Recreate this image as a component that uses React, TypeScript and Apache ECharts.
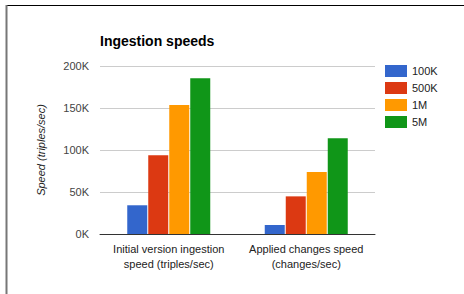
import React, { useEffect, useRef } from "react";
import * as echarts from "echarts";

const categories = ["Initial version ingestion\nspeed (triples/sec)", "Applied changes speed\n(changes/sec)"];
const seriesNames = ["100K", "500K", "1M", "5M"];
const values100K = [34200, 10700];
const values500K = [93700, 44800];
const values1M = [153600, 73800];
const values5M = [185300, 113900];
const colors = ["#3366cc", "#dc3912", "#ff9900", "#109618"];

export default function App() {
  const ref = useRef<HTMLDivElement>(null);
  useEffect(() => {
    if (!ref.current) return;
    const chart = echarts.init(ref.current, null, { renderer: "svg" });
    const font = "Arial, 'Liberation Sans', sans-serif";
    const data = [values100K, values500K, values1M, values5M];
    chart.setOption({
      animation: false,
      backgroundColor: "#ffffff",
      textStyle: { fontFamily: font },
      title: {
        text: "Ingestion speeds",
        left: 100,
        top: 34,
        padding: 0,
        textStyle: { fontFamily: font, fontSize: 14, fontWeight: "bold", color: "#000" },
      },
      legend: {
        orient: "vertical",
        left: 385,
        top: 65,
        itemWidth: 22,
        itemHeight: 12,
        itemGap: 5,
        padding: 0,
        icon: "rect",
        textStyle: { fontFamily: font, fontSize: 11, color: "#222" },
        data: seriesNames,
      },
      grid: { left: 100, right: 89, top: 66, bottom: 60 },
      xAxis: {
        type: "category",
        data: categories,
        axisTick: { show: false },
        axisLine: { lineStyle: { color: "#333", width: 1 } },
        axisLabel: { interval: 0, fontFamily: font, fontSize: 11, color: "#222", lineHeight: 15, margin: 7 },
      },
      yAxis: {
        type: "value",
        min: 0,
        max: 200000,
        interval: 50000,
        name: "Speed (triples/sec)",
        nameLocation: "middle",
        nameGap: 54,
        nameTextStyle: { fontFamily: font, fontSize: 11, fontStyle: "italic", color: "#222" },
        axisLine: { show: false },
        axisTick: { show: false },
        splitLine: { lineStyle: { color: "#cccccc" } },
        axisLabel: {
          fontFamily: font,
          fontSize: 11,
          color: "#444",
          margin: 11,
          formatter: (v: number) => `${v / 1000}K`,
        },
      },
      series: seriesNames.map((name, i) => ({
        name,
        type: "bar",
        data: data[i],
        barWidth: 20,
        barGap: "5%",
        itemStyle: { color: colors[i] },
      })),
      graphic: [
        { type: "line", shape: { x1: 7, y1: 5.5, x2: 464, y2: 5.5 }, style: { stroke: "#000", lineWidth: 1 } },
        { type: "line", shape: { x1: 6.5, y1: 5, x2: 6.5, y2: 294 }, style: { stroke: "#777", lineWidth: 2 } },
      ],
    });
    return () => chart.dispose();
  }, []);
  return <div ref={ref} style={{ position: "absolute", left: 0, top: 0, width: 464, height: 294 }} />;
}
